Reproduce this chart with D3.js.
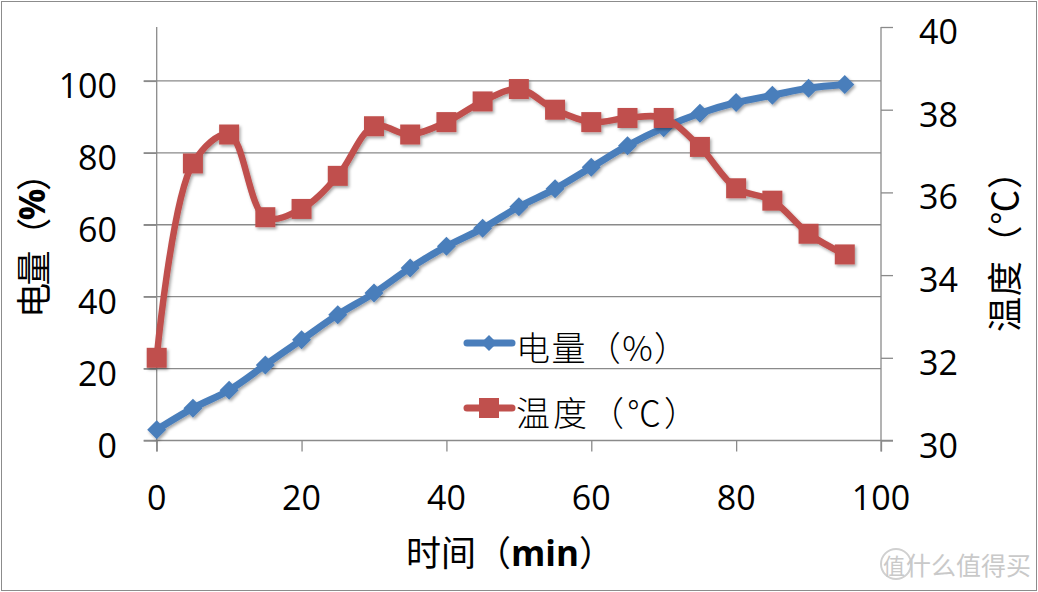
<!DOCTYPE html>
<html><head><meta charset="utf-8">
<script src="https://cdn.jsdelivr.net/npm/d3@7"></script>
<style>html,body{margin:0;padding:0;background:#fff;}svg{display:block;}</style>
</head><body>
<svg id="chart" width="1038" height="592"></svg>
<script>
// ---- data ----
const times = [0,5,10,15,20,25,30,35,40,45,50,55,60,65,70,75,80,85,90,95];
const battery = [3,9,14,21,28,35,41,48,54,59,65,70,76,82,87,91,94,96,98,99];
const temperature = [32.0,36.7,37.4,35.4,35.6,36.4,37.6,37.4,37.7,38.2,38.5,38.0,37.7,37.8,37.8,37.1,36.1,35.8,35.0,34.5];
const xTicks = [0,20,40,60,80,100];
const leftTicks = [0,20,40,60,80,100];
const rightTicks = [30,32,34,36,38,40];
const seriesNames = ["电量（%）","温度（℃）"];

(function(){
const svg = d3.select("#chart");
const W = 1038, H = 592;
const pL = 156.7, pR = 881, pT = 27, pB = 440.5;
const grid = "#8a8a8a";
const blue = "#4a7ebb", red = "#c0504d";
const numFont = "'Open Sans', 'Liberation Sans', sans-serif";
const cjkFont = "'Noto Sans CJK SC', sans-serif";

const x = d3.scaleLinear().domain([0,100]).range([pL,pR]);
const yL = d3.scaleLinear().domain([0,115]).range([pB,pT]);
const yR = d3.scaleLinear().domain([30,40]).range([pB,pT]);

const defs = svg.append("defs");
const f = defs.append("filter").attr("id","sh").attr("x","-30%").attr("y","-30%").attr("width","160%").attr("height","160%");
f.append("feDropShadow").attr("dx",1.5).attr("dy",2).attr("stdDeviation",1.6).attr("flood-color","#000").attr("flood-opacity",0.35);

svg.append("rect").attr("x",1.5).attr("y",1.5).attr("width",W-3).attr("height",H-3)
  .attr("fill","#fff").attr("stroke","#8c8c8c").attr("stroke-width",1);

svg.append("g").selectAll("line").data(leftTicks.filter(d=>d>0)).join("line")
  .attr("x1",pL-13).attr("x2",pR).attr("y1",d=>yL(d)).attr("y2",d=>yL(d))
  .attr("stroke",grid).attr("stroke-width",1.3);

const gL = svg.append("g").attr("transform",`translate(${pL},0)`)
  .call(d3.axisLeft(yL).tickValues(leftTicks).tickSize(13).tickFormat(""));
gL.select(".domain").remove();
gL.selectAll(".tick line").attr("stroke",grid).attr("stroke-width",1.3);
svg.append("line").attr("x1",pL).attr("x2",pL).attr("y1",pT).attr("y2",pB+11)
  .attr("stroke",grid).attr("stroke-width",1.3);
svg.append("g").selectAll("text").data(leftTicks).join("text")
  .attr("x",117).attr("y",d=>yL(d)+17).attr("text-anchor","end")
  .attr("font-family",numFont).attr("font-size",34).attr("fill","#000").text(d=>d);

const gR = svg.append("g").attr("transform",`translate(${pR},0)`)
  .call(d3.axisRight(yR).tickValues(rightTicks).tickSize(12).tickFormat(""));
gR.select(".domain").remove();
gR.selectAll(".tick line").attr("stroke",grid).attr("stroke-width",1.3);
svg.append("line").attr("x1",pR).attr("x2",pR).attr("y1",pT).attr("y2",pB+11)
  .attr("stroke",grid).attr("stroke-width",1.3);
svg.append("g").selectAll("text").data(rightTicks).join("text")
  .attr("x",919).attr("y",d=>yR(d)+17).attr("text-anchor","start")
  .attr("font-family",numFont).attr("font-size",34).attr("fill","#000").text(d=>d);

const gB = svg.append("g").attr("transform",`translate(0,${pB})`)
  .call(d3.axisBottom(x).tickValues(xTicks).tickSize(11).tickFormat(""));
gB.select(".domain").remove();
gB.selectAll(".tick line").attr("stroke",grid).attr("stroke-width",1.3);
svg.append("line").attr("x1",pL-13).attr("x2",pR+12).attr("y1",pB).attr("y2",pB)
  .attr("stroke",grid).attr("stroke-width",1.3);
svg.append("g").selectAll("text").data(xTicks).join("text")
  .attr("x",d=>x(d)).attr("y",510).attr("text-anchor","middle")
  .attr("font-family",numFont).attr("font-size",34).attr("fill","#000").text(d=>d);

// axis titles
const lt = svg.append("text").attr("transform","translate(31,237) rotate(-90)")
  .attr("text-anchor","middle").attr("dominant-baseline","central")
  .attr("textLength",162).attr("lengthAdjust","spacing")
  .attr("font-family",cjkFont).attr("font-size",35).attr("fill","#000");
lt.append("tspan").text("电量（");
lt.append("tspan").attr("font-weight","bold").attr("font-family",numFont).text("%");
lt.append("tspan").text("）");

svg.append("text").attr("transform","translate(1002,243) rotate(-90)")
  .attr("text-anchor","middle").attr("dominant-baseline","central")
  .attr("textLength",178).attr("lengthAdjust","spacing")
  .attr("font-family",cjkFont).attr("font-size",35).attr("fill","#000").text("温度（℃）");

const xt = svg.append("text").attr("x",510).attr("y",566).attr("text-anchor","middle")
  .attr("textLength",208).attr("lengthAdjust","spacing")
  .attr("font-family",cjkFont).attr("font-size",35).attr("fill","#000");
xt.append("tspan").text("时间（");
xt.append("tspan").attr("font-weight","bold").attr("font-family",numFont).text("min");
xt.append("tspan").text("）");

// series
const bData = times.map((t,i)=>[t,battery[i]]);
const rData = times.map((t,i)=>[t,temperature[i]]);
const lineB = d3.line().x(d=>x(d[0])).y(d=>yL(d[1])).curve(d3.curveCatmullRom.alpha(0.5));
const lineR = d3.line().x(d=>x(d[0])).y(d=>yR(d[1])).curve(d3.curveCatmullRom.alpha(0.5));

const diamond = s => `M0,${-s}L${s},0L0,${s}L${-s},0Z`;

const gBlue = svg.append("g").attr("filter","url(#sh)");
gBlue.append("path").attr("d",lineB(bData)).attr("fill","none").attr("stroke",blue)
  .attr("stroke-width",7).attr("stroke-linejoin","round").attr("stroke-linecap","round");
gBlue.selectAll("path.m").data(bData).join("path").attr("class","m")
  .attr("transform",d=>`translate(${x(d[0])},${yL(d[1])})`).attr("d",diamond(9.5)).attr("fill",blue);

const gRed = svg.append("g").attr("filter","url(#sh)");
gRed.append("path").attr("d",lineR(rData)).attr("fill","none").attr("stroke",red)
  .attr("stroke-width",6.5).attr("stroke-linejoin","round").attr("stroke-linecap","round");
gRed.selectAll("rect").data(rData).join("rect")
  .attr("x",d=>x(d[0])-10).attr("y",d=>yR(d[1])-10).attr("width",20).attr("height",20).attr("fill",red);

// legend
const legY = [343,408];
const legW = [172,182];
const lg = svg.append("g");
lg.append("line").attr("x1",467).attr("x2",512).attr("y1",legY[0]).attr("y2",legY[0])
  .attr("stroke",blue).attr("stroke-width",7).attr("stroke-linecap","round");
lg.append("path").attr("transform",`translate(489,${legY[0]})`).attr("d",diamond(8)).attr("fill",blue);
lg.append("line").attr("x1",467).attr("x2",512).attr("y1",legY[1]).attr("y2",legY[1])
  .attr("stroke",red).attr("stroke-width",7).attr("stroke-linecap","round");
lg.append("rect").attr("x",479).attr("y",legY[1]-10).attr("width",20).attr("height",20).attr("fill",red);
lg.selectAll("text").data(seriesNames).join("text")
  .attr("x",516).attr("y",(d,i)=>legY[i]+3).attr("dominant-baseline","central")
  .attr("textLength",(d,i)=>legW[i]).attr("lengthAdjust","spacing")
  .attr("font-family",cjkFont).attr("font-size",34).attr("font-weight",300).attr("fill","#000").text(d=>d);

// watermark
const wm = svg.append("g").attr("fill","#c9c9c9");
wm.append("circle").attr("cx",896).attr("cy",564).attr("r",15).attr("fill","none").attr("stroke","#d0d0d0").attr("stroke-width",2);
wm.append("text").attr("x",894).attr("y",564).attr("text-anchor","middle").attr("dominant-baseline","central")
  .attr("font-family",cjkFont).attr("font-size",22).text("值");
wm.append("text").attr("x",906).attr("y",564).attr("dominant-baseline","central")
  .attr("font-family",cjkFont).attr("font-size",25).text("什么值得买");
})();
</script>
</body></html>
